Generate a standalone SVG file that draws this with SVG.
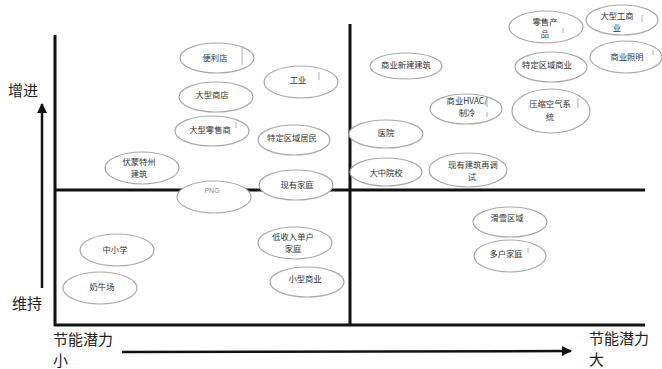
<svg xmlns="http://www.w3.org/2000/svg" width="662" height="369" viewBox="0 0 662 369">
<defs>
<marker id="ah" markerWidth="10" markerHeight="10" refX="9" refY="5" orient="auto" markerUnits="userSpaceOnUse">
<path d="M0,0 L10,5 L0,10 Z" fill="#111"/>
</marker>
<style>
.frame{stroke:#111;stroke-width:3;fill:none}
.arr{stroke:#111;stroke-width:2.5;fill:none}
.node ellipse{fill:#fff;stroke:#a8a8a8;stroke-width:1.2}
.node text{font-family:"Noto Sans CJK SC","Liberation Sans",sans-serif;font-size:8.3px;fill:#333;text-anchor:middle}
.tick{stroke:#999;stroke-width:0.8}
.ax{font-family:"Noto Sans CJK SC","Liberation Sans",sans-serif;font-size:15px;fill:#222}
</style>
</defs>
<rect width="662" height="369" fill="#fff"/>
<g id="connectors">
<line class="frame" x1="55" y1="35" x2="55" y2="326"/>
<line class="frame" x1="54" y1="325" x2="645" y2="325"/>
<line class="frame" x1="350" y1="24" x2="350" y2="326"/>
<line class="frame" x1="55" y1="190" x2="645" y2="190"/>
<line class="arr" x1="42" y1="288" x2="42" y2="104" marker-end="url(#ah)"/>
<line class="arr" x1="122" y1="352" x2="571" y2="351" marker-end="url(#ah)"/>
</g>
<g id="axis-labels">
<text class="ax" x="8" y="96">增进</text>
<text class="ax" x="12" y="309">维持</text>
<text class="ax" x="53" y="345">节能潜力</text>
<text class="ax" x="53" y="366">小</text>
<text class="ax" x="589" y="344">节能潜力</text>
<text class="ax" x="589" y="365">大</text>
</g>
<g id="n-bianlidian" class="node"><ellipse cx="217" cy="58" rx="37" ry="15"/><text x="215" y="61">便利店</text><line class="tick" x1="242" y1="48" x2="242" y2="65"/></g>
<g id="n-gongye" class="node"><ellipse cx="301" cy="82" rx="37" ry="16"/><text x="298" y="83">工业</text><line class="tick" x1="319" y1="72" x2="319" y2="80"/></g>
<g id="n-daxingshangdian" class="node"><ellipse cx="216" cy="97" rx="37" ry="15"/><text x="212" y="98">大型商店</text></g>
<g id="n-daxinglingshou" class="node"><ellipse cx="212" cy="131" rx="37" ry="15"/><text x="210" y="133">大型零售商</text><line class="tick" x1="236" y1="122" x2="236" y2="128"/></g>
<g id="n-tedingjumin" class="node"><ellipse cx="294" cy="140" rx="36" ry="15"/><text x="292" y="141">特定区域居民</text></g>
<g id="n-fumengte" class="node"><ellipse cx="142" cy="168" rx="37" ry="16"/><text x="139" y="165">伏蒙特州</text><text x="139" y="177">建筑</text></g>
<g id="n-png" class="node"><ellipse cx="214" cy="197" rx="37" ry="16"/><text x="212" y="193" style="font-family:'Liberation Sans',sans-serif;font-size:7px;fill:#888">PNG</text></g>
<g id="n-xianyoujiating" class="node"><ellipse cx="296" cy="185" rx="37" ry="15"/><text x="297" y="188">现有家庭</text></g>
<g id="n-lingshouchanpin" class="node"><ellipse cx="546" cy="27" rx="37" ry="16"/><text x="545" y="25">零售产</text><text x="545" y="37">品</text><line class="tick" x1="563" y1="28" x2="563" y2="33"/></g>
<g id="n-daxinggongshangye" class="node"><ellipse cx="622" cy="20" rx="36" ry="15"/><text x="617" y="19">大型工商</text><text x="617" y="31">业</text><line class="tick" x1="642" y1="15" x2="642" y2="22"/></g>
<g id="n-shangyezhaoming" class="node"><ellipse cx="626" cy="57" rx="36" ry="16"/><text x="627" y="60">商业照明</text><line class="tick" x1="653" y1="50" x2="653" y2="55"/></g>
<g id="n-shangyexinjian" class="node"><ellipse cx="406" cy="66" rx="36" ry="13"/><text x="406" y="68">商业新建建筑</text></g>
<g id="n-tedingshangye" class="node"><ellipse cx="551" cy="67" rx="36" ry="15"/><text x="547" y="68">特定区域商业</text></g>
<g id="n-hvac" class="node"><ellipse cx="466" cy="109" rx="36" ry="15"/><text x="467" y="104">商业HVAC/</text><text x="467" y="116">制冷</text><line class="tick" x1="487" y1="98" x2="487" y2="107"/><line class="tick" x1="487" y1="112" x2="487" y2="117"/></g>
<g id="n-yasuokongqi" class="node"><ellipse cx="551" cy="111" rx="39" ry="22"/><text x="550" y="107">压缩空气系</text><text x="550" y="120">统</text><line class="tick" x1="578" y1="98" x2="578" y2="108"/></g>
<g id="n-yiyuan" class="node"><ellipse cx="386" cy="134" rx="37" ry="14"/><text x="386" y="136">医院</text></g>
<g id="n-dazhongyuanxiao" class="node"><ellipse cx="386" cy="172" rx="36" ry="14"/><text x="386" y="176">大中院校</text></g>
<g id="n-tiaoshi" class="node"><ellipse cx="468" cy="170" rx="39" ry="17"/><text x="473" y="168">现有建筑再调</text><text x="472" y="180">试</text></g>
<g id="n-zhongxiaoxue" class="node"><ellipse cx="117" cy="250" rx="37" ry="16"/><text x="115" y="253">中小学</text></g>
<g id="n-nainiuchang" class="node"><ellipse cx="100" cy="288" rx="37" ry="16"/><text x="102" y="290">奶牛场</text></g>
<g id="n-dishouru" class="node"><ellipse cx="295" cy="243" rx="37" ry="16"/><text x="293" y="240">低收入单户</text><text x="293" y="252">家庭</text></g>
<g id="n-xiaoxingshangye" class="node"><ellipse cx="307" cy="282" rx="37" ry="15"/><text x="305" y="282">小型商业</text></g>
<g id="n-huaxue" class="node"><ellipse cx="510" cy="222" rx="37" ry="15"/><text x="507" y="221">滑雪区域</text></g>
<g id="n-duohu" class="node"><ellipse cx="510" cy="256" rx="36" ry="16"/><text x="506" y="257">多户家庭</text><line class="tick" x1="528" y1="248" x2="528" y2="253"/></g>
</svg>
